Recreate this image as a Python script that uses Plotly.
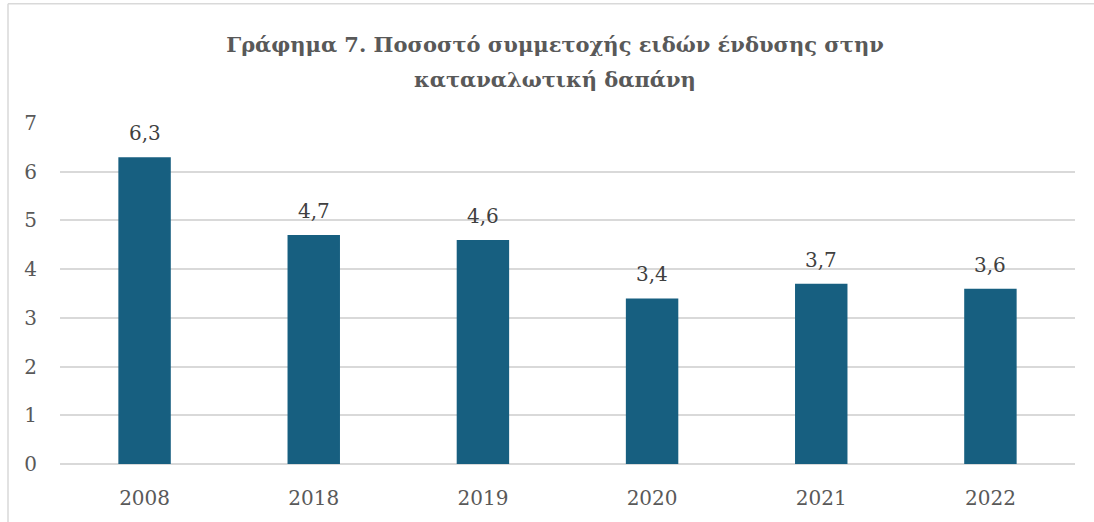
import plotly.graph_objects as go

years = ["2008", "2018", "2019", "2020", "2021", "2022"]
values = [6.3, 4.7, 4.6, 3.4, 3.7, 3.6]
title_line1 = "Γράφημα 7. Ποσοστό συμμετοχής ειδών ένδυσης στην"
title_line2 = "καταναλωτική δαπάνη"

FONT = "DejaVu Serif"
fig = go.Figure(go.Bar(
    x=years, y=values,
    marker=dict(color="#175F80", line=dict(width=0)),
    hoverinfo="x+y",
))

# data labels placed through the data scales (category index on the x axis)
for i, v in enumerate(values):
    fig.add_annotation(x=i, y=v, xref="x", yref="y", text=f"{v:.1f}".replace(".", ","),
                       showarrow=False, yanchor="middle", yshift=24,
                       font=dict(family=FONT, size=20, color="#404040"))

W, H = 1094, 522
l, r, t, b = 60, 19, 123, 56
pw, ph = W - l - r, H - t - b

def px2x(px):
    return (px - l) / pw

def py2y(py):
    return (H - b - py) / ph

title_font = dict(family=FONT, size=21, color="#595959")
fig.add_annotation(text="<b>" + title_line2 + "</b>", xref="paper", yref="paper",
                   x=px2x(555), y=py2y(79), xanchor="center", yanchor="middle",
                   showarrow=False, font=title_font)

fig.update_layout(
    width=W, height=H,
    margin=dict(l=l, r=r, t=t, b=b),
    paper_bgcolor="white", plot_bgcolor="white",
    bargap=0.69,
    showlegend=False,
    title=dict(text="<b>" + title_line1 + "</b>", x=555 / W, xanchor="center",
               y=1 - 45 / H, yanchor="middle", xref="container", yref="container",
               font=title_font),
    xaxis=dict(type="category", showgrid=False, showline=False, ticks="",
               tickfont=dict(family=FONT, size=20, color="#595959"),
               ticklabelstandoff=20),
    yaxis=dict(range=[0, 7.001], tick0=0, dtick=1, showgrid=True, gridcolor="#D9D9D9", gridwidth=1.5,
               zeroline=True, zerolinecolor="#D9D9D9", zerolinewidth=1.5,
               showline=False, ticks="",
               tickfont=dict(family=FONT, size=20, color="#595959"),
               ticklabelstandoff=22),
    shapes=[
        dict(type="line", xref="paper", yref="paper", x0=px2x(8), x1=px2x(1100),
             y0=py2y(3), y1=py2y(3), line=dict(color="#D9D9D9", width=1.5)),
        dict(type="line", xref="paper", yref="paper", x0=px2x(8), x1=px2x(8),
             y0=py2y(3), y1=py2y(530), line=dict(color="#D9D9D9", width=1.5)),
    ],
)

fig.write_html("out.html", config={"displayModeBar": False},
               post_script="document.body.style.margin='0';document.body.style.overflow='hidden';")
